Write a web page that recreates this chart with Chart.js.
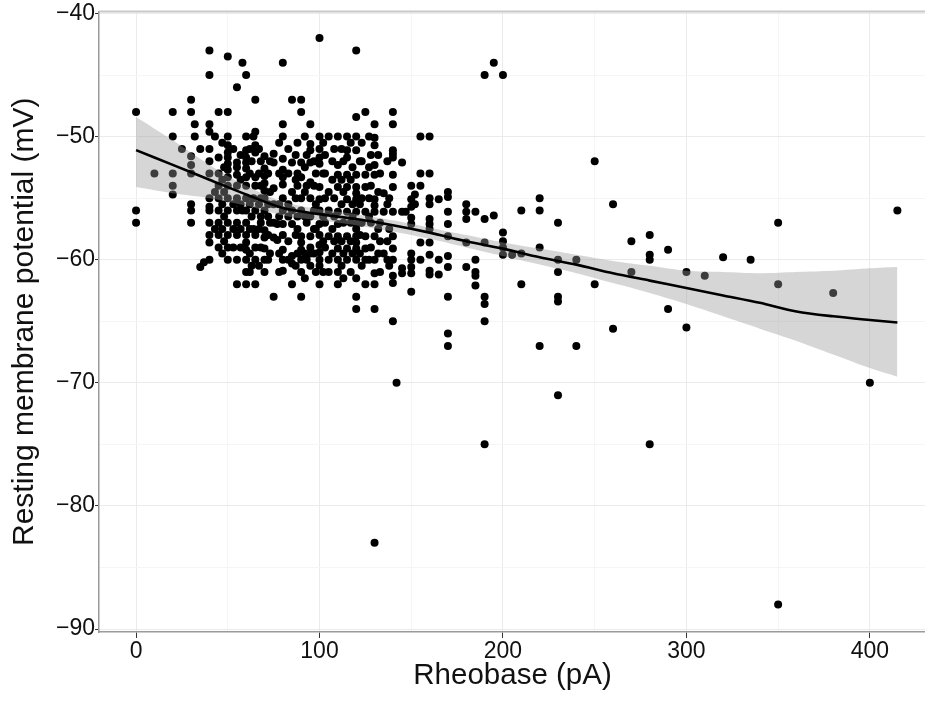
<!DOCTYPE html>
<html>
<head>
<meta charset="utf-8">
<script src="https://cdn.jsdelivr.net/npm/chart.js@4.4.1/dist/chart.umd.min.js"></script>
<style>
  html, body { margin: 0; padding: 0; background: #fff; overflow: hidden; width: 925px; height: 708px; }
  canvas { display: block; }
</style>
</head>
<body>
<canvas id="myChart" width="930" height="708"></canvas>
<script>
// rheobase values (pA), one column each, and the resting potentials (mV) read in that column
var rheobase = [0, 10, 20, 25, 30, 32, 35, 37, 40, 43, 45, 48, 50, 53, 55, 58, 60, 63, 64, 65,
  68, 70, 72, 75, 77, 80, 83, 85, 88, 90, 93, 95, 98, 100, 103, 105, 108, 110, 113, 115, 118, 120,
  123, 125, 128, 130, 133, 135, 138, 140, 142, 145, 147, 150, 152, 155, 160, 165,
  170, 180, 185, 190, 195, 200, 205, 210, 220, 230, 240, 250, 260, 270, 280, 290, 300, 310, 320,
  335, 350, 380, 400, 415,
  // the packed core of the cloud
  47, 57, 62, 67, 73, 78, 87, 92, 97, 102, 107, 112, 117, 122, 127, 132, 137];
var potential = [
  [-48, -56, -57],
  [-53],
  [-48, -50, -53, -54, -54.7],
  [-51],
  [-47, -48, -51.6, -52.3, -53, -55.5, -56, -57],
  [-49, -50],
  [-51, -60.6],
  [-60.2],
  [-43, -45, -49, -49.6, -51, -52, -53, -55, -55.7, -56, -57, -58, -58.6, -60],
  [-50, -54.5, -57.5],
  [-48, -51.7, -53, -54, -55, -56, -57, -58, -59],
  [-52.5, -54.5, -56.5, -58.5],
  [-43.5, -48, -50, -50.7, -51.3, -51.7, -52.2, -52.7, -53.3, -54, -55, -56, -57, -58, -59, -60],
  [-51, -55.5, -57.5, -59],
  [-46, -52.1, -52.5, -53.1, -54, -55, -56, -57, -58, -60, -62],
  [-44, -56],
  [-45, -50, -51.1, -51.7, -52.1, -52.6, -53.3, -54, -55, -56, -57, -58, -58.6, -59.2, -60, -61, -62],
  [-52, -56.5, -60.5],
  [-50, -55, -57.5],
  [-47, -49.6, -50.7, -51.3, -53.3, -54, -56, -58, -59, -60, -62],
  [-52, -54, -55, -56.5, -57, -59],
  [-51.6, -52.6, -53.2, -53.8, -54.4, -55, -56, -57.6, -58.2, -59.1, -60, -61],
  [-53, -55.5, -56.5, -58, -60],
  [-51.4, -52.1, -54.2, -55.5, -57, -58.2, -63],
  [-57.1, -58.4],
  [-44, -49, -50, -51.8, -52.7, -53.3, -53.9, -55, -56, -57.1, -58, -59.2, -60, -60.9],
  [-51, -53, -55.5, -56.5, -58.5, -60],
  [-47, -52.1, -54.5, -56, -57.1, -59.7, -60.3, -62],
  [-50.5, -53, -54, -56.5, -57.5, -59.5],
  [-47, -48, -52.1, -53.3, -55, -56, -58.1, -58.6, -59.2, -60, -61, -63],
  [-51.5, -54, -57, -60],
  [-49, -50.6, -51.1, -52.1, -53.7, -55, -56.5, -58.1, -59, -59.5, -60.5],
  [-53, -55.5, -57.5, -61],
  [-42, -50, -51, -51.7, -52.2, -54.1, -55.1, -56, -57.1, -58, -58.8, -59.4, -60, -60.5, -62],
  [-51.5, -53, -55, -57, -59],
  [-50, -54.5, -56, -58.1, -60, -61],
  [-51, -55, -56.5, -58.5],
  [-50, -52.3, -53.1, -54.1, -56.1, -57.1, -58.1, -59.1, -60, -61, -62],
  [-52, -54.5, -57, -59.5, -61.5],
  [-50, -51.1, -51.7, -53.1, -54.1, -55.1, -56.1, -58.1, -59.1, -60],
  [-52.5, -55.5, -56.5, -59.5],
  [-43, -48.4, -50, -51.1, -53.1, -54.1, -54.6, -55.1, -56.1, -57.1, -57.5, -58.1, -58.6, -59.1, -60, -61.5, -63, -64],
  [-50.5, -52, -55, -57, -60.5],
  [-48, -53.1, -54.1, -56.1, -58.1, -59.1, -60, -62],
  [-51.5, -54, -57, -59],
  [-49, -50.1, -50.7, -52.3, -53.1, -55.1, -55.6, -56.1, -58.1, -60, -61.1, -62, -64, -83],
  [-53, -57, -58.5, -61],
  [-54.6, -56.1, -59.5],
  [-55, -57.5, -60.5],
  [-48, -49, -51.1, -51.4, -51.7, -53.1, -54.1, -56.1, -58.1, -59.1, -60, -61.3, -61.9, -65],
  [-70],
  [-52.1, -56.1, -60.7, -61.1],
  [-56.1],
  [-54, -55.1, -55.7, -56.6, -57.1, -59.5, -60, -60.6, -61.1, -62.6],
  [-54.7, -55.5],
  [-50, -53, -54, -58.6, -60],
  [-50, -53, -55, -55.5, -56.7, -57.1, -57.5, -58.6, -59.6, -60.9, -61.2],
  [-55.1, -60, -61.2],
  [-54.5, -54.9, -56.1, -57.1, -58.1, -59.7, -60.6, -63, -66, -67],
  [-55.5, -56.1, -56.7, -58.6, -60.6],
  [-56.1, -60, -61, -61.3, -62.1],
  [-45, -56.7, -58.6, -63, -63.6, -65, -75],
  [-44, -56.4],
  [-45, -57.8, -58.5, -59, -59.6],
  [-59.6],
  [-56, -59.5, -62],
  [-55, -56, -59, -67],
  [-57, -60, -61, -63, -63.4, -71],
  [-60, -67],
  [-52, -62],
  [-55.5, -65.6],
  [-58.5, -61],
  [-58, -59.6, -60, -75],
  [-59.2, -64],
  [-61, -65.5],
  [-61.3],
  [-59.8],
  [-60],
  [-57, -62, -88],
  [-62.7],
  [-70],
  [-56],
  [-50.5, -53.5, -55.5, -57.5, -59.5],
  [-51.5, -53.5, -55.5, -57.5, -59],
  [-51, -53, -55.5, -57.5, -59.5, -61],
  [-51, -53, -55.5, -57.5, -60.5],
  [-52, -54.5, -57, -59.5],
  [-50.5, -53, -55.5, -56.5, -59.5, -61],
  [-51.5, -53.5, -55, -58, -60.5],
  [-50, -52.5, -54.5, -56.5, -59.5, -61.5],
  [-52, -54, -56, -57.5, -59.5],
  [-50.5, -53, -56.5, -58.5, -61],
  [-52, -53.5, -57.5, -59.5],
  [-51, -53.5, -55.5, -58.5, -60.5],
  [-50.5, -53.5, -57, -58.5, -61],
  [-52, -55.5, -58, -59.5],
  [-50, -52.5, -55, -56.5, -60],
  [-51.5, -54.5, -57.5, -59.5],
  [-52, -55.5, -58.5, -60]
];

// smoothed fit and its confidence band
var fitX = [0, 20, 40, 60, 80, 100, 120, 140, 160, 180, 200, 220, 240, 260, 280, 300, 320, 340, 360, 380, 400, 415];
var fitY = [-51.1, -52.3, -53.5, -54.7, -55.8, -56.3, -56.7, -57.2, -57.8, -58.5, -59.1, -59.8, -60.4, -61.1, -61.7, -62.3, -62.9, -63.5, -64.2, -64.6, -64.9, -65.1];
var bandLow = [-54.1, -54.6, -55.0, -55.6, -56.4, -56.8, -57.2, -57.7, -58.3, -59.0, -59.7, -60.4, -61.1, -61.9, -62.7, -63.6, -64.6, -65.6, -66.6, -67.7, -68.8, -69.5];
var bandHigh = [-48.4, -50.3, -52.3, -54.0, -55.3, -55.9, -56.3, -56.8, -57.4, -58.0, -58.6, -59.1, -59.6, -60.1, -60.5, -60.9, -61.0, -61.1, -61.0, -60.9, -60.7, -60.6];

var xTicks = [0, 50, 100, 150, 200, 250, 300, 350, 400];
var yTicks = [-90, -85, -80, -75, -70, -65, -60, -55, -50, -45, -40];

var points = [];
for (var i = 0; i < rheobase.length; i++) {
  for (var j = 0; j < potential[i].length; j++) {
    points.push({x: rheobase[i], y: potential[i][j]});
  }
}
function pairs(xs, ys) {
  return xs.map(function(x, k) { return {x: x, y: ys[k]}; });
}

var labelFont = "'Liberation Sans', Arial, Helvetica, sans-serif";

var panelTop = {
  id: 'panelTop',
  beforeDatasetsDraw: function(chart) {
    var a = chart.chartArea, c = chart.ctx;
    c.save();
    c.strokeStyle = '#c8c8c8';
    c.lineWidth = 2;
    c.beginPath();
    c.moveTo(a.left, a.top);
    c.lineTo(a.right, a.top);
    c.stroke();
    c.restore();
  }
};

var ctx = document.getElementById('myChart');
var myChart = new Chart(ctx, {
  type: 'line',
  data: {
    datasets: [{
      label: 'cells',
      data: points,
      showLine: false,
      pointRadius: 4,
      pointBorderWidth: 0,
      pointBackgroundColor: '#000',
      order: 3
    }, {
      label: 'band low',
      data: pairs(fitX, bandLow),
      borderWidth: 0,
      borderColor: 'rgba(0,0,0,0)',
      pointRadius: 0,
      tension: 0.3,
      fill: false,
      order: 2
    }, {
      label: 'band high',
      data: pairs(fitX, bandHigh),
      borderWidth: 0,
      borderColor: 'rgba(0,0,0,0)',
      backgroundColor: 'rgba(153,153,153,0.4)',
      pointRadius: 0,
      tension: 0.3,
      fill: '-1',
      order: 1
    }, {
      label: 'fit',
      data: pairs(fitX, fitY),
      borderColor: '#000',
      borderWidth: 2.6,
      pointRadius: 0,
      tension: 0.3,
      fill: false,
      order: 0
    }]
  },
  options: {
    responsive: false,
    animation: false,
    events: [],
    layout: { padding: { top: 11, left: 0, right: 0, bottom: 0 } },
    plugins: { legend: { display: false }, tooltip: { enabled: false } },
    scales: {
      x: {
        type: 'linear',
        min: -20.2,
        max: 430.6,
        afterBuildTicks: function(s) { s.ticks = xTicks.map(function(v) { return {value: v}; }); },
        afterFit: function(s) { s.height = 76; },
        grid: {
          color: function(c) { return c.tick && c.tick.value % 100 === 0 ? '#ebebeb' : '#f5f5f5'; },
          tickColor: function(c) { return c.tick && c.tick.value % 100 === 0 ? '#333' : 'rgba(0,0,0,0)'; },
          tickLength: 6
        },
        border: { display: true, color: '#999', width: 1.5 },
        ticks: {
          autoSkip: false,
          maxRotation: 0,
          padding: 2,
          color: '#111',
          font: { family: labelFont, size: 23, lineHeight: 1 },
          callback: function(v) { return v % 100 === 0 ? String(v) : ''; }
        },
        title: {
          display: true,
          text: 'Rheobase (pA)',
          color: '#111',
          font: { family: labelFont, size: 29.5, lineHeight: 1 },
          padding: { top: 0, bottom: 17 }
        }
      },
      y: {
        min: -90.24,
        max: -39.84,
        afterBuildTicks: function(s) { s.ticks = yTicks.map(function(v) { return {value: v}; }); },
        afterFit: function(s) { s.width = 99; },
        grid: {
          color: function(c) { return c.tick && c.tick.value % 10 === 0 ? '#ebebeb' : '#f5f5f5'; },
          tickColor: function(c) { return c.tick && c.tick.value % 10 === 0 ? '#333' : 'rgba(0,0,0,0)'; },
          tickLength: 4
        },
        border: { display: true, color: '#999', width: 1.5 },
        ticks: {
          autoSkip: false,
          padding: 0,
          color: '#111',
          font: { family: labelFont, size: 23, lineHeight: 1 },
          callback: function(v) { return v % 10 === 0 ? '\u2212' + Math.abs(v) : ''; }
        },
        title: {
          display: true,
          text: 'Resting membrane potential (mV)',
          color: '#111',
          font: { family: labelFont, size: 30, lineHeight: 1 },
          padding: { top: 10, bottom: 0 }
        }
      }
    }
  },
  plugins: [panelTop]
});
</script>
</body>
</html>
